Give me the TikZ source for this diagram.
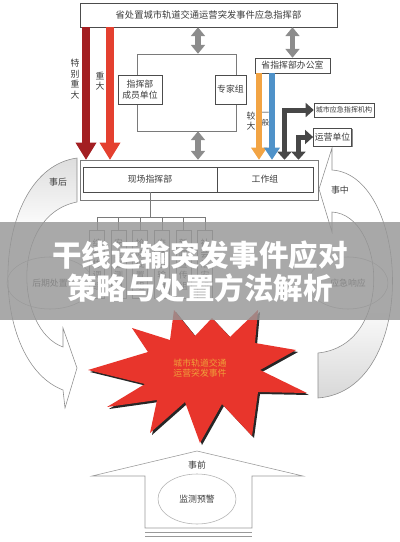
\documentclass[tikz,border=0pt]{standalone}
\usepackage{fontspec}
\setmainfont{Noto Sans CJK SC}
\usepackage{tikz}
\usetikzlibrary{arrows.meta,positioning,shapes.geometric,shadows}
\definecolor{ink}{HTML}{3C3C3C}
\definecolor{rule}{HTML}{7A7A7A}
\definecolor{garnet}{HTML}{A31F22}
\definecolor{alarm}{HTML}{E4402F}
\definecolor{amber}{HTML}{F2A444}
\definecolor{sky}{HTML}{4F92C9}
\definecolor{steel}{HTML}{8C8C8C}
\definecolor{burst}{HTML}{E8352C}
\definecolor{flame}{HTML}{EFA03A}
\definecolor{ring}{HTML}{D2D2D2}
\definecolor{veil}{HTML}{969696}
\pgfdeclareverticalshading{aftershade}{100bp}{color(0bp)=(white); color(60bp)=(white); color(80bp)=(ring); color(100bp)=(ring)}
\pgfdeclareverticalshading{duringshade}{100bp}{color(0bp)=(ring); color(22bp)=(ring); color(45bp)=(white); color(100bp)=(white)}
\newcommand{\lbl}{\fontsize{6.3}{7.6}\selectfont}
\tikzset{
  px/.style 2 args={minimum width=#1*0.025cm, minimum height=#2*0.025cm},
  cmdbox/.style={rectangle, draw=black!70, fill=white, text=ink, font=\lbl,
    align=center, inner sep=1pt,
    drop shadow={shadow xshift=0.7pt, shadow yshift=-0.7pt, fill=black!45, opacity=1}},
  teambox/.style={rectangle, draw=black!50, fill=white, text=ink, font=\lbl,
    align=center, inner sep=0pt, anchor=north},
  framebox/.style={rectangle, draw=rule, fill=white, inner sep=0pt},
  tag/.style={text=ink, font=\lbl, align=center, inner sep=0pt},
  oval/.style={ellipse, draw=black!30, text=ink, font=\lbl, inner sep=0pt},
  redarrow/.style={draw=#1, line width=0.175cm,
    -{Triangle[width=0.53cm, length=0.43cm, line width=0pt]}},
  thinarrow/.style={draw=#1, line width=0.125cm,
    -{Triangle[width=0.4cm, length=0.3cm, line width=0pt]}},
  twoway/.style={draw=steel, line width=0.125cm,
    {Triangle[width=0.36cm, length=0.22cm, line width=0pt]}-{Triangle[width=0.36cm, length=0.22cm, line width=0pt]}},
  elbow/.style={draw=black!72, line width=0.125cm,
    {Triangle[width=0.36cm, length=0.2cm, line width=0pt]}-{Triangle[width=0.36cm, length=0.2cm, line width=0pt]}},
  ringarrow/.style={draw=black!45, line width=0.4pt},
}

\begin{document}
\begin{tikzpicture}[x=0.025cm, y=-0.025cm]
    \useasboundingbox (0,0) rectangle (400,542);
    % phase rings
    \path[shade, shading=aftershade, ringarrow] (77,158) .. controls (-10,170) and (-15,360) .. (63,390)
        -- (65,408) -- (77,368) -- (63,328) -- (63,347) .. controls (15,330) and (10,215) .. (77,202) -- cycle;
    \path[shade, shading=duringshade, ringarrow] (332,170) -- (332,148) -- (319,189) -- (332,232) -- (332,212)
        .. controls (385,215) and (395,345) .. (318,353) -- (318,398) .. controls (420,390) and (410,175) .. (332,170) -- cycle;
    \node[tag] (after) at (58,182) {事后};
    \node[tag] (during) at (340,190) {事中};
    \node[oval, px={86}{52}] (post) at (50,283) {后期处置};
    \node[oval, px={80}{52}] (resp) at (348,283) {应急响应};

    % command chain
    \node[cmdbox, px={257}{24}, font=\fontsize{6.6}{8}\selectfont] (top) at (208.5,15) {省处置城市轨道交通运营突发事件应急指挥部};
    \node[framebox, px={99}{77}] (grp) at (186.5,92.5) {};
    \node[cmdbox, px={44}{29}] (mem) at (140,89.5) {指挥部\\成员单位};
    \node[cmdbox, px={31}{29}] (exp) at (230.5,89.5) {专家组};
    \node[cmdbox, px={75}{15}] (off) at (292.5,65.5) {省指挥部办公室};
    \node[cmdbox, px={60}{14}, font=\fontsize{5}{6}\selectfont] (city) at (344,110) {城市应急指挥机构};
    \node[cmdbox, px={33}{18}] (oper) at (332.5,137) {运营单位};
    \node[framebox, px={238}{40}] (site) at (199,180) {};
    \node[cmdbox, px={134}{25}] (cmd) at (150,179.5) {现场指挥部};
    \node[cmdbox, px={96}{25}] (work) at (265,179.5) {工作组};

    \node[tag] (lvl1) at (75,79) {特\\别\\重\\大};
    \node[tag] (lvl2) at (100,81) {重\\大};
    \node[tag] (lvl3) at (251,121) {较\\大};
    \node[tag, font=\fontsize{5.2}{7.4}\selectfont] (lvl4) at (265.5,119) {一\\般};

    \draw[redarrow=garnet] (86,0 |- top.south) -- (86,0 |- site.north);
    \draw[redarrow=alarm] (110,0 |- top.south) -- (110,0 |- site.north);
    \draw[twoway] (198,0 |- top.south) -- (198,0 |- grp.north);
    \draw[twoway] (292.5,0 |- top.south) -- (off.north);
    \draw[twoway] (198,0 |- grp.south) -- (198,0 |- site.north);
    \draw[thinarrow=amber] (259,0 |- off.south) -- (259,0 |- site.north);
    \draw[thinarrow=sky] (272,0 |- off.south) -- (272,0 |- site.north);
    \draw[elbow] (284.5,0 |- site.north) |- (city.west);
    \draw[elbow] (298.5,0 |- site.north) |- (oper.west);

    % teams under the site command
    \foreach \t [count=\i] in {{综\\合\\协\\调\\组}, {安\\全\\监\\测\\组}, {抢\\险\\处\\置\\组},
                               {交\\通\\运\\输\\组}, {新\\闻\\宣\\传\\组}, {社\\会\\治\\安\\组}}
        \node[teambox, px={15}{68}] (team\i) at (97+21.6*\i-21.6,230) {\t};
    \coordinate (bus) at (0,217);
    \draw[rule] (cmd.south) -- (cmd.south |- bus);
    \draw[rule] (team1.north |- bus) -- (team6.north |- bus);
    \foreach \i in {1,...,6}
        \draw[rule] (team\i.north) -- (team\i.north |- bus);

    % the event
    \def\burstpath{(88,370) -- (148,352) -- (132,328) -- (170,340) -- (174,310) -- (195,336) -- (212,318)
        -- (230,337) -- (258,310) -- (255,343) -- (296,350) -- (260,370) -- (307,393) -- (258,392)
        -- (252,436) -- (222,404) -- (200,443) -- (185,402) -- (150,433) -- (157,400) -- (107,407)
        -- (145,384) -- cycle}
    \fill[black!85, shift={(2,2)}] \burstpath;
    \fill[burst] \burstpath;
    \node[tag, text=flame] (event) at (200,368) {城市轨道交通\\运营突发事件};

    % before the event
    \draw[black!40, fill=white] (197,451) -- (303,476) -- (252,476) -- (252,528) -- (145,528) -- (145,476) -- (92,476) -- cycle;
    \draw[black!40] (145,532) -- (252,532) (145,536) -- (252,536);
    \node[tag] (pre) at (197,465) {事前};
    \node[oval, px={78}{50}] (warn) at (197,499) {监测预警};

    % overlay banner
    \fill[veil, opacity=0.82] (0,222) rectangle (400,320);
    \node[text=white, font=\fontsize{21}{25}\selectfont\bfseries, inner sep=0pt] (head1) at (200,255) {干线运输突发事件应对};
    \node[text=white, font=\fontsize{21}{25}\selectfont\bfseries, inner sep=0pt] (head2) at (200,288) {策略与处置方法解析};
\end{tikzpicture}
\end{document}
